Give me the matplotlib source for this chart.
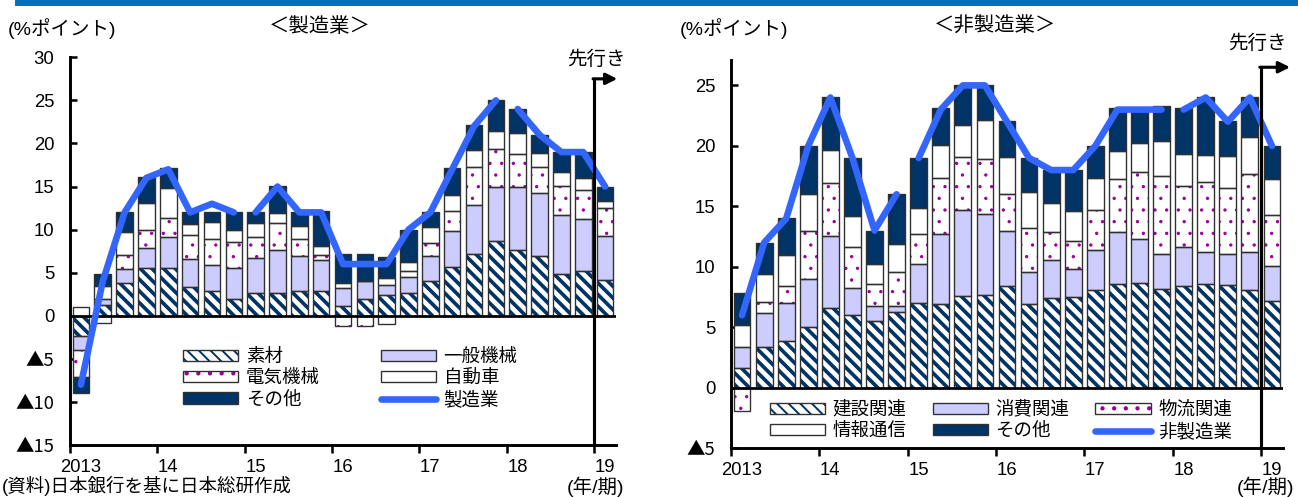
import numpy as np
import matplotlib
matplotlib.use("Agg")
import matplotlib.pyplot as plt
from matplotlib.patches import Rectangle
from matplotlib.lines import Line2D
from matplotlib.legend_handler import HandlerTuple

plt.rcParams['font.family'] = ['Liberation Sans', 'Noto Sans CJK JP']

# quarters 2013Q1 .. 2019Q1 (2019Q1 = forecast)
year_labels = ["2013", "14", "15", "16", "17", "18", "19"]
segment_starts = [0, 8, 20]   # survey sample revisions (2015Q1, 2018Q1)

# 製造業: contributions (%pt)
mfg_sozai   = [-2.3, 1.3, 3.8, 5.5, 5.6, 3.3, 2.9, 2.0, 2.7, 2.7, 2.9, 2.9, 1.1,
               2.0, 2.4, 2.6, 4.0, 5.7, 7.2, 8.7, 7.6, 6.9, 4.9, 5.2, 4.2]
mfg_ippan   = [-1.7, 0.7, 1.6, 2.4, 3.5, 3.3, 3.0, 3.5, 4.0, 4.9, 4.0, 3.6, 2.1,
               2.0, 1.2, 1.9, 2.9, 4.1, 5.7, 6.3, 7.4, 7.3, 6.8, 6.0, 5.1]
mfg_denki   = [-3.1, -0.8, 1.6, 2.1, 2.3, 2.8, 3.0, 3.1, 2.5, 3.2, 2.0, 0.5, -1.2,
               -1.2, -0.9, 0.7, 1.6, 2.4, 4.4, 4.4, 3.8, 3.1, 3.4, 3.4, 3.2]
mfg_jidosha = [1.0, 1.5, 2.7, 3.1, 3.4, 1.3, 2.0, 1.4, 1.6, 1.1, 1.5, 1.1, 0.6,
               0.0, 0.8, 1.0, 1.8, 1.8, 1.9, 2.1, 2.4, 1.6, 1.6, 1.4, 0.8]
mfg_other   = [-1.9, 1.3, 2.4, 3.0, 2.3, 1.4, 1.2, 2.1, 1.3, 3.2, 1.7, 4.1, 3.4,
               3.2, 2.4, 3.7, 1.8, 3.1, 2.9, 3.6, 2.8, 2.1, 2.3, 3.0, 1.7]
mfg_di      = [-8, 4, 12, 16, 17, 12, 13, 12, 12, 15, 12, 12, 6, 6, 6, 10,
               12, 17, 22, 25, 24, 21, 19, 19, 15]

# 非製造業: contributions (%pt)
nm_kensetsu = [1.6, 3.35, 3.9, 5.0, 6.6, 6.0, 5.55, 6.25, 7.0, 6.9, 7.6, 7.7, 8.4,
               6.9, 7.45, 7.5, 8.05, 8.6, 8.7, 8.2, 8.4, 8.6, 8.5, 8.1, 7.2]
nm_shohi    = [1.75, 2.8, 3.1, 4.0, 5.95, 2.25, 1.25, 0.55, 3.25, 5.8, 7.1, 6.65, 4.6,
               2.7, 3.15, 2.3, 3.35, 4.25, 3.6, 2.9, 3.2, 2.65, 2.6, 3.1, 2.85]
nm_butsuryu = [-1.95, 0.95, 1.4, 4.0, 4.35, 3.4, 1.8, 2.8, 2.5, 4.65, 4.35, 4.55, 3.0,
               3.65, 2.3, 2.35, 3.3, 4.45, 5.5, 6.4, 5.05, 5.75, 5.45, 6.5, 4.25]
nm_joho     = [1.85, 2.3, 2.6, 3.0, 2.8, 2.55, 1.6, 2.3, 2.15, 2.75, 2.65, 3.2, 3.05,
               2.9, 2.35, 2.45, 2.65, 2.25, 2.45, 2.9, 2.7, 2.25, 2.6, 3.0, 2.95]
nm_other    = [2.65, 2.6, 3.0, 4.0, 4.3, 4.8, 2.8, 4.1, 4.1, 3.0, 3.3, 2.9, 3.0,
               2.85, 2.75, 3.4, 2.65, 3.55, 2.85, 2.9, 3.75, 4.8, 2.9, 3.35, 2.75]
nm_di       = [6, 12, 14, 20, 24, 19, 13, 16, 19, 23, 25, 25, 22, 19, 18, 18,
               20, 23, 23, 23, 23, 24, 22, 24, 20]

NAVY = "#003366"
LAV = "#CCCCFF"
PURPLE = "#990099"
BLUE = "#3366FF"
OUTLINE = "#303030"

# face, hatch colour, hatch, hatch linewidth
STRIPE = ("white", NAVY, "\\\\\\\\", 1.9)
PLAIN_LAV = (LAV, LAV, None, 1.0)
DOTS = ("white", PURPLE, "..", 0.5)
PLAIN_WHITE = ("white", "white", None, 1.0)
SOLID_NAVY = (NAVY, NAVY, None, 1.0)


def draw_panel(ax, series, labels, styles, di, di_label):
    x = np.arange(len(di))
    pos = np.zeros(len(di))
    neg = np.zeros(len(di))
    handles = {}
    for vals, lab, (face, hcol, hatch, hlw) in zip(series, labels, styles):
        v = np.array(vals, dtype=float)
        bottom = np.where(v >= 0, pos, neg)
        with plt.rc_context({'hatch.linewidth': hlw}):
            b1 = ax.bar(x, v, 0.76, bottom=bottom, color=face, edgecolor=hcol,
                        hatch=hatch, linewidth=0, zorder=2)
        for p in b1:
            if hasattr(p, "set_hatch_linewidth"):
                p.set_hatch_linewidth(hlw)
        b2 = ax.bar(x, v, 0.76, bottom=bottom, fill=False, edgecolor=OUTLINE,
                    linewidth=0.7, zorder=3)
        handles[lab] = (b1, b2)
        pos += np.where(v > 0, v, 0)
        neg += np.where(v < 0, v, 0)

    bounds = segment_starts + [len(di)]
    for s, e in zip(bounds[:-1], bounds[1:]):
        ax.plot(x[s:e], di[s:e], color=BLUE, lw=3.4, solid_capstyle='round',
                solid_joinstyle='round', zorder=4)
    handles[di_label] = Line2D([], [], color=BLUE, lw=3.4, solid_capstyle='round')

    ax.axhline(0, color='black', lw=1.4, zorder=3)
    ax.set_xlim(-0.5, 24.5)
    ax.set_xticks(np.arange(-0.5, 25, 4))
    ax.set_xticklabels([])
    ax.set_xticks(np.arange(0, 25, 4), minor=True)
    ax.set_xticklabels(year_labels, minor=True)
    ax.tick_params(axis='x', which='major', direction='out', length=4, width=1.3)
    ax.tick_params(axis='x', which='minor', length=0, labelsize=9.5, pad=7)
    ax.tick_params(axis='y', direction='in', length=3.5, width=1.3, labelsize=9.5, pad=8)
    for sp in ['top', 'right']:
        ax.spines[sp].set_visible(False)
    for sp in ['left', 'bottom']:
        ax.spines[sp].set_linewidth(1.5)
    return handles


def set_y_labels(ax, ticks):
    ax.set_yticks(ticks)
    labs = ax.set_yticklabels([f"▲{-t}" if t < 0 else f"{t}" for t in ticks])
    for t, lab in zip(ticks, labs):
        if t < 0:
            lab.set_fontfamily(['Noto Sans CJK JP'])


def lead_arrow(ax, ytop, xtip):
    ymin = ax.get_ylim()[0]
    ax.plot([23.5, 23.5], [ymin, ytop], color='black', lw=1.6, clip_on=False, zorder=5)
    ax.annotate('', xy=(xtip, ytop), xytext=(23.45, ytop),
                arrowprops=dict(arrowstyle='-|>', color='black', lw=1.6,
                                mutation_scale=12, shrinkA=0, shrinkB=0),
                annotation_clip=False, zorder=5)


W, H = 1298, 497
fig = plt.figure(figsize=(W / 140, H / 140), dpi=140)
fig.patches.append(Rectangle((16 / W, 1 - 5 / H), 1, 5 / H, transform=fig.transFigure,
                             color="#0070C0", zorder=0))

# 製造業
ax1 = fig.add_axes([70 / W, 1 - 445 / H, 546 / W, 387.7 / H])
h1 = draw_panel(ax1, [mfg_sozai, mfg_ippan, mfg_denki, mfg_jidosha, mfg_other],
                ["素材", "一般機械", "電気機械", "自動車", "その他"],
                [STRIPE, PLAIN_LAV, DOTS, PLAIN_WHITE, SOLID_NAVY], mfg_di, "製造業")
ax1.set_ylim(-15, 30)
set_y_labels(ax1, np.arange(-15, 31, 5))
lead_arrow(ax1, 27.5, 24.56)
order1 = ["素材", "電気機械", "その他", "一般機械", "自動車", "製造業"]
fig.legend([h1[k] for k in order1], order1, handler_map={tuple: HandlerTuple(ndivide=1)},
           loc='upper left', bbox_to_anchor=(183 / W, 1 - 349 / H), ncol=2,
           frameon=False, fontsize=9.5, borderpad=0, handlelength=3.0,
           handleheight=0.55, handletextpad=0.4, labelspacing=0.22,
           columnspacing=3.3, borderaxespad=0)

# 非製造業
ax2 = fig.add_axes([731 / W, 1 - 448.3 / H, 552 / W, 388.3 / H])
h2 = draw_panel(ax2, [nm_kensetsu, nm_shohi, nm_butsuryu, nm_joho, nm_other],
                ["建設関連", "消費関連", "物流関連", "情報通信", "その他"],
                [STRIPE, PLAIN_LAV, DOTS, PLAIN_WHITE, SOLID_NAVY], nm_di, "非製造業")
ax2.set_ylim(-5, 27.1)
set_y_labels(ax2, np.arange(-5, 26, 5))
lead_arrow(ax2, 26.5, 24.82)
order2 = ["建設関連", "情報通信", "消費関連", "その他", "物流関連", "非製造業"]
fig.legend([h2[k] for k in order2], order2, handler_map={tuple: HandlerTuple(ndivide=1)},
           loc='upper left', bbox_to_anchor=(770 / W, 1 - 401 / H), ncol=3,
           frameon=False, fontsize=9.5, borderpad=0, handlelength=3.0,
           handleheight=0.55, handletextpad=0.4, labelspacing=0.22,
           columnspacing=1.4, borderaxespad=0)

# headings and notes
def ftext(x, y, s, **kw):
    fig.text(x / W, 1 - y / H, s, **kw)

ftext(8, 29, "(%ポイント)", fontsize=10, va='center', ha='left')
ftext(320, 26, "＜製造業＞", fontsize=10.5, va='center', ha='center')
ftext(680, 29, "(%ポイント)", fontsize=10, va='center', ha='left')
ftext(995, 26, "＜非製造業＞", fontsize=10.5, va='center', ha='center')
ftext(596, 60, "先行き", fontsize=10, va='center', ha='center')
ftext(1257, 44, "先行き", fontsize=10, va='center', ha='center')
ftext(596, 487, "(年/期)", fontsize=10, va='center', ha='center')
ftext(1265, 487, "(年/期)", fontsize=10, va='center', ha='center')
ftext(2, 496, "(資料)日本銀行を基に日本総研作成", fontsize=9.5, va='bottom', ha='left')

fig.savefig("out.png", dpi=140)
